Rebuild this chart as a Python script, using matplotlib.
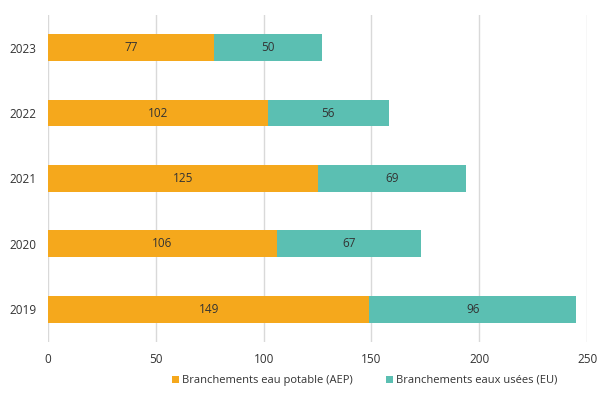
import matplotlib.pyplot as plt
import numpy as np

plt.rcParams['font.family'] = ['Open Sans', 'DejaVu Sans']

years = ["2019", "2020", "2021", "2022", "2023"]
aep = [149, 106, 125, 102, 77]
eu = [96, 67, 69, 56, 50]

c_aep = "#F5A81C"
c_eu = "#5BBFB2"
txt = "#333333"

fig = plt.figure(figsize=(5.98, 3.94), dpi=100)
ax = fig.add_axes([0.080, 0.132, 0.902, 0.830])

y = np.arange(len(years))
h = 0.41
ax.barh(y, aep, height=h, color=c_aep, label="Branchements eau potable (AEP)", zorder=2)
ax.barh(y, eu, left=aep, height=h, color=c_eu, label="Branchements eaux usées (EU)", zorder=2)

for i in range(len(years)):
    ax.text(aep[i] / 2, y[i], str(aep[i]), ha="center", va="center", fontsize=8.5, color=txt)
    ax.text(aep[i] + eu[i] / 2, y[i], str(eu[i]), ha="center", va="center", fontsize=8.5, color=txt)

ax.set_xlim(0, 250)
ax.set_ylim(-0.5, len(years) - 0.5)
ax.set_xticks(np.arange(0, 251, 50))
ax.set_yticks(y)
ax.set_yticklabels(years)
ax.tick_params(length=0, labelsize=8.5, colors=txt, pad=8)
ax.xaxis.grid(True, color="#d9d9d9", linewidth=1, zorder=0)
for s in ax.spines.values():
    s.set_visible(False)

fig.legend(loc="lower center", bbox_to_anchor=(0.61, -0.005), ncol=2, frameon=False,
           fontsize=8, handlelength=0.6, handleheight=0.6, handletextpad=0.3,
           columnspacing=3.0, labelcolor=txt)

fig.savefig("out.png", dpi=100)
